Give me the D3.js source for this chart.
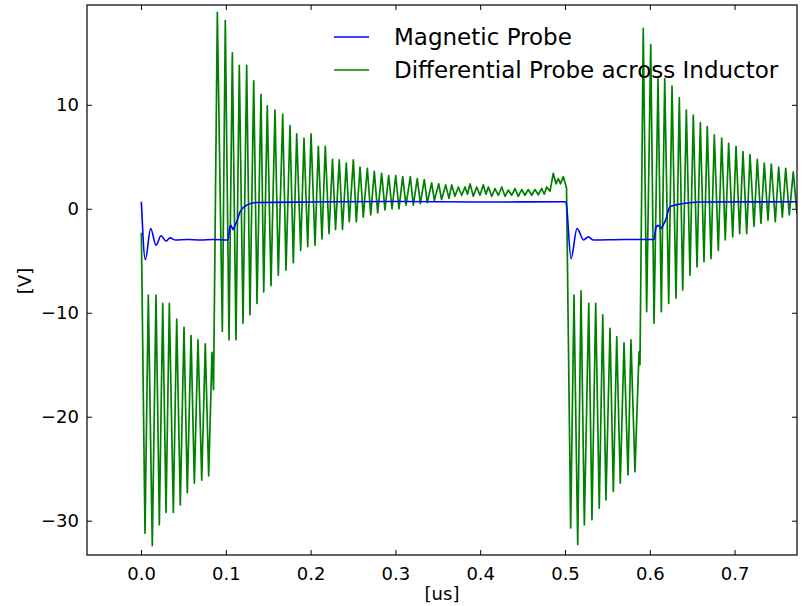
<!DOCTYPE html>
<html><head><meta charset="utf-8">
<script src="https://cdn.jsdelivr.net/npm/d3@7"></script>
<style>body{margin:0;background:#fff}svg{display:block}text{font-family:"DejaVu Sans",sans-serif;fill:#000}</style>
</head><body>
<svg id="c" width="805" height="606"></svg>
<script>
const greenT = [0.0004,0.0047,0.0086,0.0133,0.0177,0.0216,0.0256,0.0295,0.0334,0.0381,0.0421,0.0463,0.0507,0.0546,0.0590,0.0629,0.0672,0.0716,0.0758,0.0798,0.0837,0.0855,
0.0900,0.0959,0.0994,0.1038,0.1077,0.1120,0.1159,0.1203,0.1246,0.1285,0.1329,0.1368,0.1415,0.1447,0.1489,0.1533,0.1580,0.1619,0.1671,0.1710,0.1757,0.1796,0.1836,0.1883,0.1922,0.1966,0.2005,0.2052,0.2091,0.2134,0.2173,0.2217,0.2258,0.2294,0.2338,0.2376,0.2421,0.2456,0.2504,0.2539,0.2583,0.2621,0.2669,0.2709,0.2751,0.2791,0.2838,0.2877,0.2921,0.2960,0.3004,0.3042,0.3086,0.3125,0.3176,0.3211,0.3258,0.3294,0.3341,0.3376,0.3428,0.3459,0.3511,0.3544,0.3593,0.3632,
0.3664,0.3703,0.3742,0.3782,0.3821,0.3850,0.3880,0.3919,0.3959,0.3998,0.4037,0.4068,0.4096,0.4136,0.4175,0.4214,0.4254,0.4292,0.4331,0.4371,0.4410,0.4449,0.4489,0.4528,0.4567,0.4607,0.4646,0.4685,0.4725,0.4755,0.4784,0.4823,0.4862,0.4894,0.4921,0.4947,0.4980,0.5018,
0.5067,0.5106,0.5150,0.5189,0.5228,0.5280,0.5318,0.5362,0.5404,0.5445,0.5483,0.5531,0.5570,0.5610,0.5652,0.5696,0.5743,0.5778,0.5825,0.5873,0.5884,
0.5923,0.5963,0.6011,0.6050,0.6097,0.6136,0.6176,0.6223,0.6262,0.6309,0.6348,0.6388,0.6431,0.6474,0.6513,0.6557,0.6596,0.6639,0.6678,0.6722,0.6761,0.6808,0.6848,0.6890,0.6930,0.6978,0.7017,0.7060,0.7099,0.7143,0.7182,0.7229,0.7268,0.7311,0.7350,0.7394,0.7433,0.7480,0.7520,0.7563,0.7603,0.7645,0.7692,0.7736];
const greenV = [-2.3,-31.2,-8.3,-32.4,-8.3,-30.4,-9.1,-29.2,-9.1,-29.2,-10.6,-28.5,-11.4,-27.3,-12.2,-26.4,-12.6,-26.1,-13.0,-25.7,-13.8,-17.4,
18.9,-11.8,18.1,-12.6,15.0,-12.6,13.8,-11.0,13.8,-10.2,12.3,-9.1,11.0,-8.0,9.9,-7.4,9.5,-6.4,9.1,-5.9,8.0,-5.2,7.2,-4.0,6.8,-3.65,7.2,-3.5,6.0,-2.9,6.0,-2.4,4.75,-2.0,4.7,-2.0,4.4,-1.25,4.7,-1.25,4.0,-0.8,3.9,-0.6,3.6,-0.4,3.4,-0.1,3.2,0.0,3.2,0.0,3.1,0.35,3.1,0.35,2.9,0.5,2.8,0.6,2.5,0.8,2.4,0.9,2.3,1.0,
2.3,1.2,2.1,1.3,2.1,1.4,2.4,1.2,2.1,1.3,2.3,1.4,2.1,1.2,1.95,1.3,2.1,1.2,1.8,1.3,1.95,1.2,1.85,1.3,1.85,1.3,1.85,1.35,1.95,1.4,2.1,1.7,3.4,2.4,2.9,2.4,3.1,2.0,
-30.7,-8.3,-32.3,-7.9,-30.4,-9.1,-29.9,-9.1,-28.8,-10.2,-28.0,-11.5,-27.2,-12.3,-26.4,-12.9,-25.6,-12.6,-25.3,-13.75,-15.0,
17.35,-9.9,15.8,-11.0,12.5,-9.9,12.5,-9.1,11.8,-8.6,10.7,-7.8,9.5,-6.4,9.0,-5.6,8.3,-5.1,7.9,-4.8,7.1,-4.0,6.8,-3.0,6.3,-2.7,6.0,-2.4,5.5,-2.4,5.2,-1.7,4.75,-1.4,4.4,-1.1,4.3,-1.25,4.0,-0.8,3.9,-0.6,3.55,-0.5];

const blueT = [0.0004,0.0051,0.0114,0.0177,0.0236,0.0295,0.0342,0.0401,0.0550,0.0700,0.0850,0.1026,0.1044,0.1061,0.1085,0.1108,0.1140,0.1167,0.1246,0.1364,0.2000,0.3000,0.4000,0.5000,0.5012,0.5071,0.5142,0.5220,0.5275,0.5330,0.5700,0.6050,0.6073,0.6100,0.6130,0.6156,0.6190,0.6238,0.6392,0.6592,0.7736];
const blueV = [0.67,-4.9,-1.9,-3.5,-2.6,-3.1,-2.8,-3.0,-2.95,-3.0,-2.95,-3.0,-1.9,-1.6,-2.0,-1.6,-1.0,-0.3,0.35,0.6,0.65,0.7,0.65,0.67,0.6,-4.8,-1.9,-3.0,-2.7,-3.0,-2.95,-2.95,-1.8,-1.6,-1.9,-1.6,-1.0,0.2,0.5,0.65,0.67];

const xTicks = [0,0.1,0.2,0.3,0.4,0.5,0.6,0.7];
const xTickLabels = ["0.0","0.1","0.2","0.3","0.4","0.5","0.6","0.7"];
const yTicks = [-30,-20,-10,0,10];
const yTickLabels = ["\u221230","\u221220","\u221210","0","10"];
const seriesNames = ["Magnetic Probe","Differential Probe across Inductor"];
const xDomain = [-0.0637, 0.7736];
const yDomain = [-33.3, 19.6];

const L=87,R=797,T=5,B=555;
const svg = d3.select("#c");
svg.append("rect").attr("width",805).attr("height",606).attr("fill","#fff");
const x = d3.scaleLinear().domain(xDomain).range([L,R]);
const y = d3.scaleLinear().domain(yDomain).range([B,T]);

svg.append("clipPath").attr("id","clip").append("rect").attr("x",L).attr("y",T).attr("width",R-L).attr("height",B-T);
const g = svg.append("g").attr("clip-path","url(#clip)");
const line = d3.line().x(d=>x(d[0])).y(d=>y(d[1]));
const lineSmooth = d3.line().x(d=>x(d[0])).y(d=>y(d[1])).curve(d3.curveMonotoneX);
const green = greenT.map((t,i)=>[t,greenV[i]]);
const blue = blueT.map((t,i)=>[t,blueV[i]]);
g.append("path").attr("d",line(green)).attr("fill","none").attr("stroke","#008000").attr("stroke-width",1.7).attr("stroke-linejoin","round");
g.append("path").attr("d",lineSmooth(blue)).attr("fill","none").attr("stroke","#0000ff").attr("stroke-width",1.6).attr("stroke-linejoin","round");

const fmtX = (d,i)=>xTickLabels[i], fmtY=(d,i)=>yTickLabels[i];
const ax = svg.append("g").attr("transform",`translate(0,${B})`).call(d3.axisBottom(x).tickValues(xTicks).tickFormat(fmtX).tickSizeInner(-5).tickSizeOuter(0).tickPadding(12));
const axT = svg.append("g").attr("transform",`translate(0,${T})`).call(d3.axisTop(x).tickValues(xTicks).tickFormat("").tickSizeInner(-5).tickSizeOuter(0));
const ay = svg.append("g").attr("transform",`translate(${L},0)`).call(d3.axisLeft(y).tickValues(yTicks).tickFormat(fmtY).tickSizeInner(-5).tickSizeOuter(0).tickPadding(8));
const ayR = svg.append("g").attr("transform",`translate(${R},0)`).call(d3.axisRight(y).tickValues(yTicks).tickFormat("").tickSizeInner(-5).tickSizeOuter(0));
[ax,axT,ay,ayR].forEach(a=>{a.select(".domain").remove();a.selectAll("line").attr("stroke","#000");a.selectAll("text").attr("font-size",18).attr("font-family","DejaVu Sans").attr("fill","#000");});
svg.append("rect").attr("x",L).attr("y",T).attr("width",R-L).attr("height",B-T).attr("fill","none").attr("stroke","#000").attr("stroke-width",1.2);

svg.append("text").attr("x",442).attr("y",600).attr("text-anchor","middle").attr("font-size",18).text("[us]");
svg.append("text").attr("transform","translate(31,281) rotate(-90)").attr("text-anchor","middle").attr("font-size",18).text("[V]");

const leg = svg.append("g");
const colors = ["#0000ff","#008000"];
seriesNames.forEach((n,i)=>{
  const yy = 37 + i*33;
  leg.append("line").attr("x1",334).attr("x2",369).attr("y1",yy).attr("y2",yy).attr("stroke",colors[i]).attr("stroke-width",1.6);
  leg.append("text").attr("x",394).attr("y",yy).attr("dy","0.35em").attr("font-size",23).text(n);
});
</script>
</body></html>
